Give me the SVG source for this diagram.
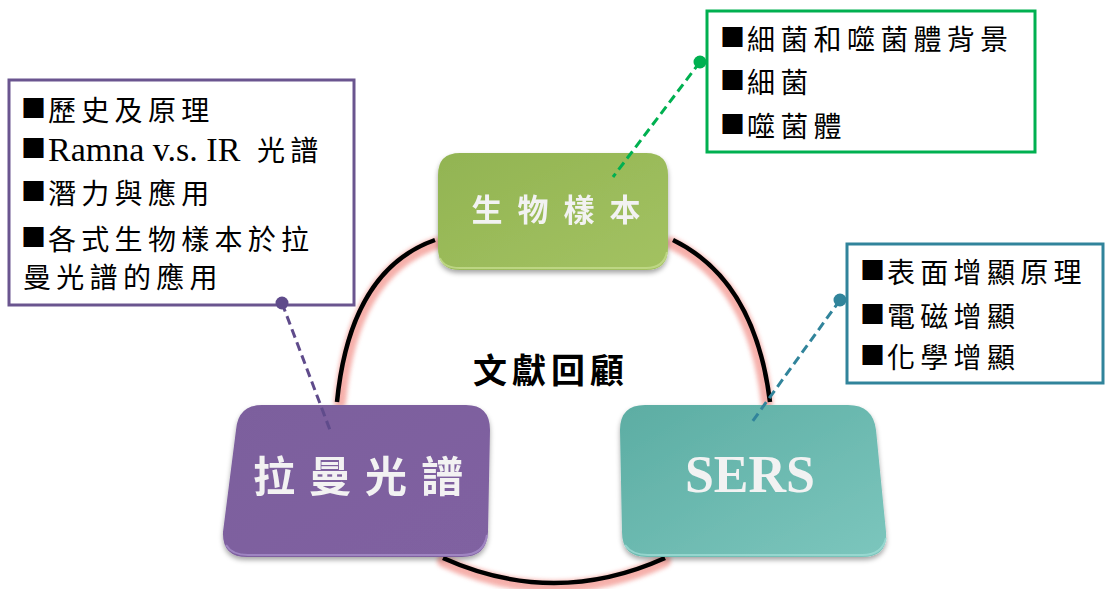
<svg xmlns="http://www.w3.org/2000/svg" width="1105" height="589" viewBox="0 0 1105 589">
<style>
.cjk{font-family:"Noto Sans CJK TC","Noto Sans CJK SC",sans-serif;}
.lst{font-family:"Noto Sans CJK TC","Noto Sans CJK SC",sans-serif;font-size:28px;letter-spacing:5.3px;fill:#000;}
.sq{font-family:"Noto Sans CJK TC",sans-serif;font-size:25px;letter-spacing:0;}
.lat{font-family:"Liberation Serif",serif;font-size:34px;letter-spacing:0;}
.box{fill:#fff;stroke-width:3;}
.lbl{fill:#f2f2f2;text-anchor:middle;}
.arc-glow{fill:none;stroke:#f4a29c;stroke-width:12;stroke-linecap:round;opacity:0.85;}
.arc{fill:none;stroke:#000;stroke-width:4.5;stroke-linecap:butt;}
.dash{fill:none;stroke-width:3;stroke-dasharray:9 5;}
</style>
<defs>
<filter id="blur" x="-20%" y="-20%" width="140%" height="140%"><feGaussianBlur stdDeviation="2"/></filter>
<filter id="shadow" x="-10%" y="-10%" width="120%" height="130%"><feDropShadow dx="0" dy="3" stdDeviation="2.5" flood-color="#000" flood-opacity="0.35"/></filter>
<linearGradient id="gG" x1="0" y1="0" x2="1" y2="1"><stop offset="0" stop-color="#92b452"/><stop offset="1" stop-color="#a3c262"/></linearGradient>
<linearGradient id="gP" x1="0" y1="0" x2="1" y2="1"><stop offset="0" stop-color="#7c5f9d"/><stop offset="1" stop-color="#8062a1"/></linearGradient>
<linearGradient id="gT" x1="0" y1="0" x2="1" y2="1"><stop offset="0" stop-color="#5cada3"/><stop offset="1" stop-color="#7cc6bd"/></linearGradient>
</defs>
<rect width="1105" height="589" fill="#fff"/>

<g id="connectors">
<path class="arc-glow" filter="url(#blur)" d="M437 243 Q352 272 340 402"/>
<path class="arc-glow" filter="url(#blur)" d="M671 243 Q753 282 767 402"/>
<path class="arc-glow" filter="url(#blur)" d="M443 561 Q554 612 665 561"/>
<path class="arc" d="M435 240 Q350 270 337 402"/>
<path class="arc" d="M673 240 Q755 280 770 402"/>
<path class="arc" d="M443 558 Q554 608 665 558"/>
</g>

<g id="node-bio" filter="url(#shadow)">
<path d="M460 153 H646 Q668 153 668 175 V248 Q668 270 646 270 H460 Q438 270 438 248 V175 Q438 153 460 153 Z" fill="url(#gG)"/>
<path d="M440 258 Q444 268 460 268 H646 Q664 268 667 252" fill="none" stroke="#c4dc8c" stroke-width="2" opacity="0.8"/>
<text class="cjk lbl" x="563.5" y="221" font-size="31" font-weight="bold" letter-spacing="15">生物樣本</text>
</g>

<g id="node-raman" filter="url(#shadow)">
<path d="M262 405 H466 Q490 405 490 430 L488 532 Q487 557 462 557 H247 Q222 557 223 532 L236 430 Q238 405 262 405 Z" fill="url(#gP)"/>
<path d="M226 545 Q232 555 248 555 H462 Q484 555 487 535" fill="none" stroke="#a88fcb" stroke-width="2" opacity="0.8"/>
<text class="cjk lbl" x="365" y="492" font-size="42" font-weight="bold" letter-spacing="14">拉曼光譜</text>
</g>

<g id="node-sers" filter="url(#shadow)">
<path d="M645 405 H848 Q873 405 876 430 L886 532 Q888 557 862 557 H647 Q622 557 622 532 L620 430 Q620 405 645 405 Z" fill="url(#gT)"/>
<path d="M625 545 Q632 555 648 555 H862 Q882 555 886 538" fill="none" stroke="#9fdcd4" stroke-width="2" opacity="0.8"/>
<text class="lbl" x="750" y="492" font-family="Liberation Serif, serif" font-weight="bold" font-size="52">SERS</text>
</g>

<g id="center-title">
<text class="cjk" x="551" y="383" font-size="34" font-weight="bold" letter-spacing="5" text-anchor="middle" fill="#000">文獻回顧</text>
</g>

<g id="callout-raman">
<rect class="box" x="9" y="80" width="345" height="225" stroke="#6a558f"/>
<text class="lst"><tspan class="sq" x="21" y="118">■</tspan><tspan x="48" y="121">歷史及原理</tspan></text>
<text class="lst"><tspan class="sq" x="21" y="158">■</tspan><tspan class="lat" x="48" y="161">Ramna v.s. IR</tspan><tspan x="257" y="161">光譜</tspan></text>
<text class="lst"><tspan class="sq" x="21" y="201">■</tspan><tspan x="48" y="204">潛力與應用</tspan></text>
<text class="lst"><tspan class="sq" x="21" y="247">■</tspan><tspan x="48" y="250">各式生物樣本於拉</tspan></text>
<text class="lst"><tspan x="23" y="288">曼光譜的應用</tspan></text>
</g>

<g id="callout-bio">
<rect class="box" x="707" y="11" width="328" height="141" stroke="#00b050"/>
<text class="lst"><tspan class="sq" x="720" y="47">■</tspan><tspan x="747" y="50">細菌和噬菌體背景</tspan></text>
<text class="lst"><tspan class="sq" x="720" y="90">■</tspan><tspan x="747" y="93">細菌</tspan></text>
<text class="lst"><tspan class="sq" x="720" y="134">■</tspan><tspan x="747" y="137">噬菌體</tspan></text>
</g>

<g id="callout-sers">
<rect class="box" x="847" y="244" width="256" height="139" stroke="#31849b"/>
<text class="lst"><tspan class="sq" x="860" y="280">■</tspan><tspan x="887" y="283">表面增顯原理</tspan></text>
<text class="lst"><tspan class="sq" x="860" y="324">■</tspan><tspan x="887" y="327">電磁增顯</tspan></text>
<text class="lst"><tspan class="sq" x="860" y="365">■</tspan><tspan x="887" y="368">化學增顯</tspan></text>
</g>

<g id="callout-links">
<path class="dash" stroke="#00b050" d="M700 62 L613 177"/>
<circle cx="700" cy="62" r="6.5" fill="#00b050"/>
<path class="dash" stroke="#5f4b8b" d="M282 303 L330 430"/>
<circle cx="282" cy="303" r="6.5" fill="#5f4b8b"/>
<path class="dash" stroke="#31849b" d="M840 300 L752 422"/>
<circle cx="840" cy="300" r="6.5" fill="#31849b"/>
</g>
</svg>
